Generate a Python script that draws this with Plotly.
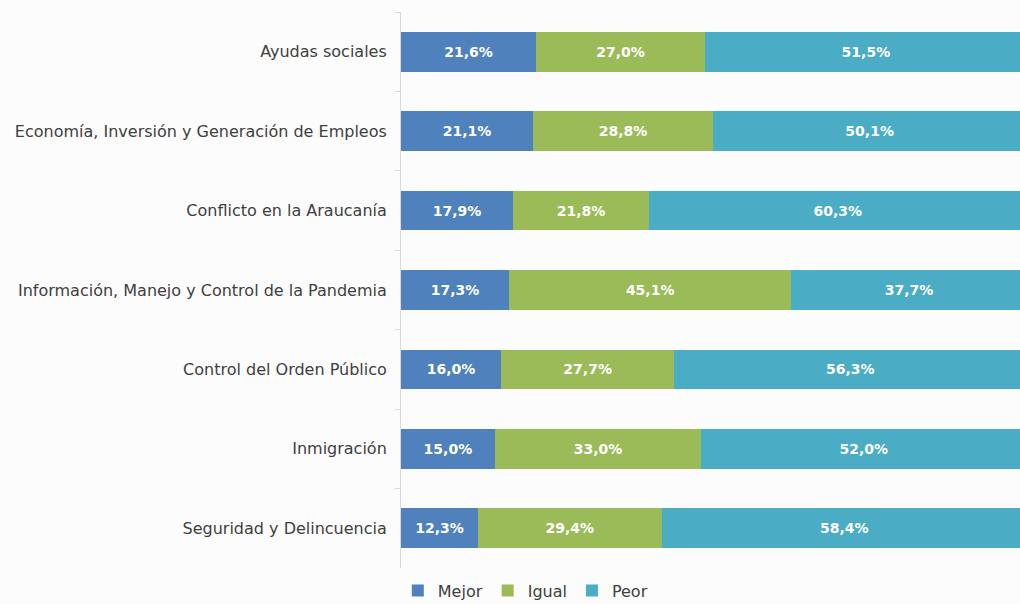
import plotly.graph_objects as go

categories = [
    "Ayudas sociales",
    "Economía, Inversión y Generación de Empleos",
    "Conflicto en la Araucanía",
    "Información, Manejo y Control de la Pandemia",
    "Control del Orden Público",
    "Inmigración",
    "Seguridad y Delincuencia",
]
mejor = [21.6, 21.1, 17.9, 17.3, 16.0, 15.0, 12.3]
igual = [27.0, 28.8, 21.8, 45.1, 27.7, 33.0, 29.4]
peor = [51.5, 50.1, 60.3, 37.7, 56.3, 52.0, 58.4]

series = [("Mejor", mejor, "#4F81BD"), ("Igual", igual, "#9BBB59"), ("Peor", peor, "#4BACC6")]

def fmt(v):
    return f"{v:.1f}%".replace(".", ",")

fig = go.Figure()
for name, vals, color in series:
    fig.add_trace(go.Bar(
        name=name, y=categories, x=vals, orientation="h",
        marker=dict(color=color, line=dict(width=0)),
        text=[fmt(v) for v in vals], textposition="inside", insidetextanchor="middle",
        textfont=dict(family="DejaVu Sans", size=14, color="white", weight="bold"),
        hoverinfo="skip",
    ))

fig.update_layout(
    barmode="stack", bargap=0.5,
    width=1020, height=604,
    margin=dict(l=401, r=0, t=12, b=36),
    paper_bgcolor="#fcfcfc", plot_bgcolor="#fcfcfc",
    font=dict(family="DejaVu Sans", size=16, color="#404040"),
    legend=dict(orientation="h", xref="container", yref="container", x=0.515, xanchor="center",
                y=0.022, yanchor="middle", font=dict(size=16, color="#404040"),
                itemwidth=30, traceorder="normal"),
    uniformtext=dict(mode="show", minsize=10),
)
fig.update_xaxes(range=[0, 99], visible=False, showgrid=False, zeroline=False)
fig.update_yaxes(autorange="reversed", showline=True, linecolor="#d9d9d9", linewidth=1,
                 ticks="outside", tickson="boundaries", ticklen=5, tickcolor="#d9d9d9",
                 ticklabelstandoff=10, showgrid=False, categoryorder="array", categoryarray=categories)

fig.write_html("out.html", config={"displayModeBar": False},
               post_script="document.body.style.margin='0';document.body.style.overflow='hidden';")
